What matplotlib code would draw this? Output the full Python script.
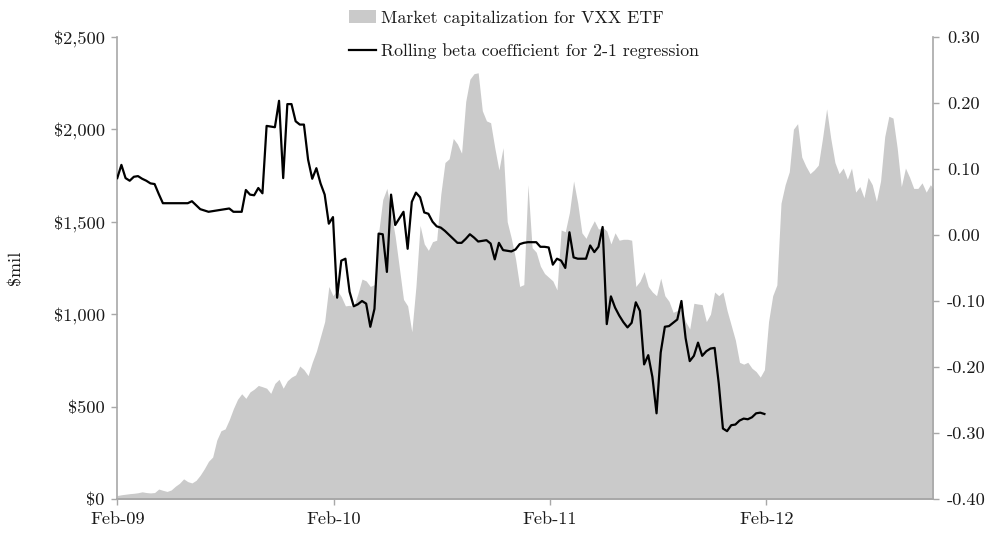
import numpy as np
import pandas as pd
import matplotlib
matplotlib.use("Agg")
import matplotlib.pyplot as plt
import matplotlib.dates as mdates
from matplotlib.patches import Patch
from matplotlib.lines import Line2D

plt.rcParams['font.family'] = ['cmr10', 'DejaVu Serif']
plt.rcParams['axes.unicode_minus'] = False

# weekly market cap of VXX ($mil), from Feb-09
cap_values = [20, 24, 27, 30, 32, 35, 40, 36, 34, 36,
              55, 48, 42, 50, 70, 86, 110, 95, 88, 102,
              130, 165, 205, 228, 320, 370, 380, 430, 490, 540,
              570, 545, 580, 595, 615, 608, 600, 572, 626, 648,
              600, 640, 660, 672, 720, 700, 668, 740, 800, 880,
              960, 1150, 1100, 1130, 1095, 1045, 1048, 1041, 1110, 1190,
              1180, 1150, 1160, 1440, 1620, 1680, 1550, 1420, 1250, 1080,
              1045, 905, 1150, 1480, 1380, 1345, 1392, 1400, 1650, 1820,
              1840, 1950, 1920, 1870, 2150, 2270, 2300, 2305, 2100, 2045,
              2035, 1900, 1780, 1900, 1500, 1410, 1300, 1150, 1160, 1700,
              1360, 1335, 1260, 1220, 1200, 1180, 1131, 1455, 1446, 1550,
              1720, 1600, 1440, 1410, 1462, 1505, 1460, 1470, 1450, 1380,
              1440, 1400, 1405, 1405, 1400, 1150, 1178, 1230, 1150, 1120,
              1100, 1195, 1100, 1070, 1010, 1020, 1025, 960, 920, 1059,
              1055, 1052, 960, 1000, 1120, 1100, 1120, 1020, 940, 860,
              740, 730, 740, 708, 690, 660, 700, 960, 1100, 1158,
              1600, 1700, 1770, 2000, 2030, 1850, 1800, 1760, 1780, 1806,
              1950, 2110, 1950, 1820, 1760, 1790, 1730, 1790, 1660, 1690,
              1630, 1740, 1700, 1610, 1720, 1960, 2070, 2060, 1900, 1690,
              1790, 1740, 1680, 1680, 1710, 1660, 1700, 1671]

# weekly rolling beta, 2-1 regression
beta_values = [0.086, 0.106, 0.086, 0.082, 0.088, 0.089, 0.085, 0.082, 0.078, 0.077,
               0.062, 0.048, 0.048, 0.048, 0.048, 0.048, 0.048, 0.048, 0.051, 0.045,
               0.039, 0.037, 0.035, 0.036, 0.037, 0.038, 0.039, 0.040, 0.035, 0.035,
               0.035, 0.068, 0.061, 0.060, 0.071, 0.063, 0.165, 0.164, 0.163, 0.203,
               0.086, 0.198, 0.198, 0.172, 0.167, 0.167, 0.114, 0.085, 0.101, 0.078,
               0.061, 0.017, 0.027, -0.095, -0.039, -0.036, -0.086, -0.108, -0.105, -0.100,
               -0.104, -0.139, -0.112, 0.002, 0.001, -0.056, 0.061, 0.015, 0.025, 0.035,
               -0.021, 0.050, 0.064, 0.057, 0.034, 0.032, 0.020, 0.013, 0.011, 0.006,
               0.000, -0.006, -0.012, -0.012, -0.006, 0.001, -0.004, -0.010, -0.009, -0.008,
               -0.013, -0.037, -0.012, -0.023, -0.024, -0.025, -0.022, -0.014, -0.012, -0.011,
               -0.011, -0.011, -0.018, -0.018, -0.019, -0.045, -0.036, -0.039, -0.050, 0.004,
               -0.034, -0.036, -0.036, -0.036, -0.016, -0.026, -0.018, 0.012, -0.135, -0.093,
               -0.110, -0.122, -0.132, -0.140, -0.133, -0.102, -0.115, -0.196, -0.182, -0.215,
               -0.270, -0.178, -0.139, -0.138, -0.133, -0.128, -0.100, -0.156, -0.191, -0.183,
               -0.163, -0.183, -0.176, -0.172, -0.171, -0.225, -0.293, -0.297, -0.288, -0.287,
               -0.281, -0.278, -0.279, -0.276, -0.270, -0.269, -0.271]

start = '2009-02-01'
cap_dates = pd.date_range(start, periods=len(cap_values), freq='7D')
beta_dates = pd.date_range(start, periods=len(beta_values), freq='7D')

cap_ticks = [0, 500, 1000, 1500, 2000, 2500]
beta_ticks = [-0.40, -0.30, -0.20, -0.10, 0.00, 0.10, 0.20, 0.30]

spine_col = '#a8a8a8'
text_col = '#1a1a1a'

fig = plt.figure(figsize=(9.87, 5.35), dpi=100)
ax = fig.add_axes([0.1188, 0.0669, 0.8268, 0.8645])
ax.fill_between(cap_dates, cap_values, 0, color='#cacaca', linewidth=0)
ax.set_ylim(0, 2500)
ax.set_yticks(cap_ticks)
ax.set_yticklabels(['$0'] + ['${:,}'.format(v) for v in cap_ticks[1:]])
ax.set_xlim(pd.Timestamp('2009-02-01'), pd.Timestamp('2012-11-09'))
ax.xaxis.set_major_locator(mdates.MonthLocator(bymonth=2))
ax.xaxis.set_major_formatter(mdates.DateFormatter('%b-%y'))
ax.set_ylabel('$mil', fontsize=13, color=text_col)
ax.yaxis.set_label_coords(-0.116, 0.5)

ax2 = ax.twinx()
ax2.plot(beta_dates, beta_values, color='black', linewidth=1.6)
ax2.set_ylim(-0.40, 0.30)
ax2.set_yticks(beta_ticks)
ax2.set_yticklabels(['{:.2f}'.format(v) for v in beta_ticks])

for a in (ax, ax2):
    a.spines['top'].set_visible(False)
    for s in ('left', 'right', 'bottom'):
        a.spines[s].set_color(spine_col)
        a.spines[s].set_linewidth(1.2)
    a.tick_params(colors=spine_col, labelcolor=text_col, labelsize=13.2,
                  length=4, width=1)
ax.spines['right'].set_visible(False)
ax2.spines['left'].set_visible(False)
ax.tick_params(axis='y', pad=5)
ax2.tick_params(axis='y', pad=6)
ax.tick_params(axis='x', pad=5)

handles = [Patch(facecolor='#cacaca', edgecolor='none'),
           Line2D([], [], color='black', linewidth=1.6)]
labels = ['Market capitalization for VXX ETF',
          'Rolling beta coefficient for 2-1 regression']
fig.legend(handles, labels, loc='upper left', bbox_to_anchor=(0.337, 1.012),
           frameon=False, fontsize=12.8, handlelength=1.55, handleheight=0.8,
           handletextpad=0.25, labelspacing=1.0, labelcolor=text_col)

fig.savefig('out.png', dpi=100)
